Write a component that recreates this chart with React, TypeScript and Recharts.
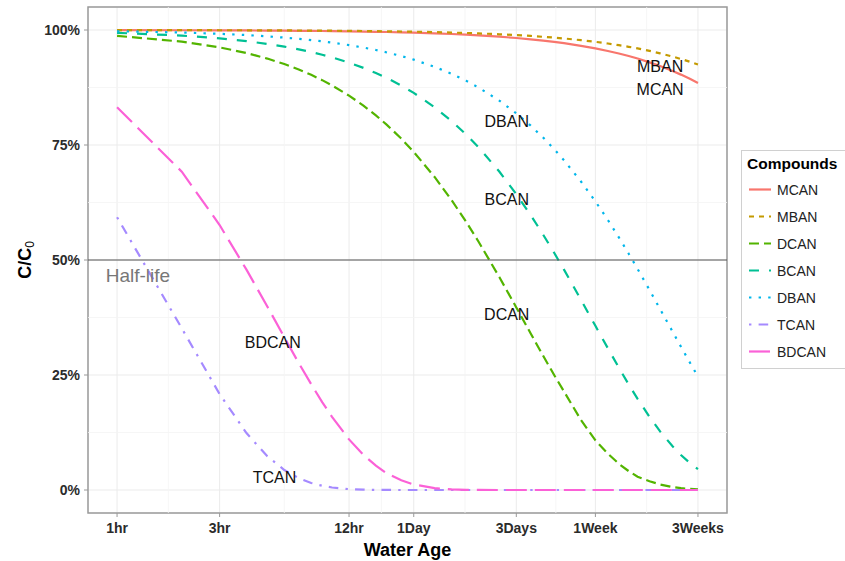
import React from 'react';
import {
  LineChart, Line, XAxis, YAxis, CartesianGrid, ReferenceLine, ReferenceArea, ReferenceDot, Legend,
} from 'recharts';

// ---- data ----
const hours = [1, 2, 3, 4, 5, 6, 7, 8, 9, 10, 12, 14, 16, 18, 21, 24, 30, 36, 42, 48, 60, 72, 84, 96, 108, 120, 144, 168, 192, 216, 240, 264, 300, 336, 384, 420, 462, 504];

const MCAN = [0.9998, 0.9995, 0.9993, 0.999, 0.9988, 0.9985, 0.9983, 0.998, 0.9978, 0.9976, 0.9971, 0.9966, 0.9961, 0.9956, 0.9949, 0.9942, 0.9927, 0.9913, 0.9898, 0.9884, 0.9855, 0.9826, 0.9798, 0.9769, 0.9741, 0.9713, 0.9656, 0.96, 0.9544, 0.9489, 0.9434, 0.9379, 0.9297, 0.9216, 0.9109, 0.903, 0.8939, 0.8848];
const MBAN = [0.9998, 0.9997, 0.9995, 0.9994, 0.9992, 0.9991, 0.9989, 0.9988, 0.9986, 0.9985, 0.9981, 0.9978, 0.9975, 0.9972, 0.9967, 0.9963, 0.9954, 0.9944, 0.9935, 0.9926, 0.9907, 0.9889, 0.9871, 0.9852, 0.9834, 0.9816, 0.9779, 0.9743, 0.9707, 0.967, 0.9635, 0.9599, 0.9546, 0.9493, 0.9422, 0.937, 0.9309, 0.925];
const DCAN = [0.9873, 0.9747, 0.9622, 0.95, 0.9379, 0.926, 0.9142, 0.9025, 0.891, 0.8796, 0.8573, 0.8356, 0.8144, 0.7938, 0.7638, 0.7349, 0.6806, 0.6301, 0.5834, 0.5402, 0.463, 0.3969, 0.3402, 0.2917, 0.25, 0.2143, 0.152, 0.108, 0.079, 0.057, 0.041, 0.029, 0.019, 0.012, 0.0065, 0.004, 0.0025, 0.0015];
const BCAN = [0.9939, 0.9878, 0.9818, 0.9758, 0.9698, 0.9639, 0.958, 0.9521, 0.9463, 0.9405, 0.929, 0.9177, 0.9066, 0.8956, 0.8793, 0.8633, 0.8321, 0.8021, 0.7731, 0.7452, 0.6923, 0.6432, 0.5976, 0.5551, 0.5157, 0.4791, 0.4135, 0.3569, 0.3081, 0.2659, 0.2295, 0.1981, 0.159, 0.1274, 0.095, 0.0761, 0.0589, 0.0455];
const DBAN = [0.9972, 0.9945, 0.9917, 0.989, 0.9862, 0.9835, 0.9808, 0.978, 0.9753, 0.9726, 0.9672, 0.9618, 0.9566, 0.9512, 0.9434, 0.9355, 0.9199, 0.9048, 0.8899, 0.8751, 0.8465, 0.8188, 0.792, 0.7661, 0.741, 0.7167, 0.6706, 0.6274, 0.5869, 0.5491, 0.5137, 0.4806, 0.4347, 0.3932, 0.3443, 0.3115, 0.2773, 0.2465];
const TCAN = [0.593, 0.3516, 0.2085, 0.1237, 0.0733, 0.0435, 0.0258, 0.0153, 0.0091, 0.0054, 0.0019, 0.0007, 0.0002, 0.0001, 0, 0, 0, 0, 0, 0, 0, 0, 0, 0, 0, 0, 0, 0, 0, 0, 0, 0, 0, 0, 0, 0, 0, 0];
const BDCAN = [0.832, 0.692, 0.576, 0.479, 0.399, 0.332, 0.276, 0.23, 0.191, 0.159, 0.11, 0.076, 0.053, 0.036, 0.021, 0.012, 0.004, 0.0013, 0.0004, 0.0001, 0, 0, 0, 0, 0, 0, 0, 0, 0, 0, 0, 0, 0, 0, 0, 0, 0, 0];

const seriesNames = ['MCAN', 'MBAN', 'DCAN', 'BCAN', 'DBAN', 'TCAN', 'BDCAN'];
const seriesValues = [MCAN, MBAN, DCAN, BCAN, DBAN, TCAN, BDCAN];
const seriesColors = ['#F8766D', '#C49A00', '#53B400', '#00C094', '#00B6EB', '#A58AFF', '#FB61D7'];
const seriesDash = [undefined, '5 5', '10 5', '10 10', '2.4 7.2', '2.4 7.2 9.6 7.2', '21 8'];

const xTicks = [1, 3, 12, 24, 72, 168, 504];
const xTickLabels = ['1hr', '3hr', '12hr', '1Day', '3Days', '1Week', '3Weeks'];
const xMinor = [1.732, 6, 16.97, 41.57, 110, 291];
const yTicks = [0, 0.25, 0.5, 0.75, 1];
const yTickLabels = ['0%', '25%', '50%', '75%', '100%'];
const yMinor = [0.125, 0.375, 0.625, 0.875];

const annoText = ['MBAN', 'MCAN', 'DBAN', 'BCAN', 'DCAN', 'BDCAN', 'TCAN'];
const annoX = [336, 336, 65, 65, 65, 5.3, 5.4];
const annoY = [0.922, 0.872, 0.802, 0.633, 0.383, 0.32, 0.028];
const halfLifeLabel = { text: 'Half-life', x: 1.25, y: 0.467 };

const data = hours.map((h, i) => {
  const row: Record<string, number> = { h };
  seriesNames.forEach((n, k) => { row[n] = seriesValues[k][i]; });
  return row;
});

const FONT = '"Liberation Sans", Arial, Helvetica, sans-serif';

const renderLegend = () => (
  <svg width={112} height={220} style={{ display: 'block' }}>
    <rect x={0.5} y={0.5} width={120} height={218} fill="#fff" stroke="#d0d0d0" strokeWidth={1} />
    <text x={6} y={19} fontFamily={FONT} fontSize={15.5} fontWeight="bold" fill="#000">Compounds</text>
    {seriesNames.map((n, i) => (
      <g key={n}>
        <line x1={8} x2={30} y1={39.5 + 27 * i} y2={39.5 + 27 * i} stroke={seriesColors[i]} strokeWidth={2.2} strokeDasharray={seriesDash[i]} />
        <text x={36} y={44.5 + 27 * i} fontFamily={FONT} fontSize={14} fill="#222">{n}</text>
      </g>
    ))}
  </svg>
);

const YTitle = (props: any) => {
  const vb = props.viewBox || { x: 0, y: 7, width: 88, height: 506 };
  const cx = 25;
  const cy = vb.y + vb.height / 2;
  return (
    <text x={cx} y={cy} transform={`rotate(-90, ${cx}, ${cy})`} textAnchor="middle" dominantBaseline="central" fontFamily={FONT} fontSize={18} fontWeight="bold" fill="#000">
      C/C<tspan fontSize={12} fontWeight="normal" dy={5}>0</tspan>
    </text>
  );
};

const XTitle = (props: any) => {
  const vb = props.viewBox || { x: 88, y: 513, width: 639, height: 48 };
  return (
    <text x={vb.x + vb.width / 2} y={555.5} textAnchor="middle" fontFamily={FONT} fontSize={18} fontWeight="bold" fill="#000">Water Age</text>
  );
};

export default function App() {
  return (
    <div style={{ position: 'absolute', left: 0, top: 0, width: 845, height: 561, background: '#fff' }}>
      <LineChart width={845} height={561} data={data} margin={{ top: 7, right: 118, bottom: 0, left: 0 }}>
        <CartesianGrid stroke="#ebebeb" strokeWidth={1} />
        {xMinor.map((v) => (
          <ReferenceLine key={'xm' + v} x={v} stroke="#f4f4f4" strokeWidth={0.8} />
        ))}
        {yMinor.map((v) => (
          <ReferenceLine key={'ym' + v} y={v} stroke="#f4f4f4" strokeWidth={0.8} />
        ))}
        <XAxis
          dataKey="h"
          type="number"
          scale="log"
          domain={[0.7325, 687.9]}
          allowDataOverflow
          ticks={xTicks}
          tickFormatter={(v: number) => xTickLabels[xTicks.indexOf(v)] ?? ''}
          height={48}
          axisLine={false}
          tickLine={{ stroke: '#999' }}
          tickSize={4}
          tickMargin={6}
          tick={{ fontFamily: FONT, fontSize: 14, fontWeight: 'bold', fill: '#2b2b2b' }}
          interval={0}
          label={{ content: XTitle }}
        />
        <YAxis
          type="number"
          domain={[-0.05, 1.05]}
          allowDataOverflow
          ticks={yTicks}
          tickFormatter={(v: number) => yTickLabels[yTicks.indexOf(v)] ?? ''}
          width={88}
          axisLine={false}
          tickLine={{ stroke: '#999' }}
          tickSize={4}
          tickMargin={4}
          tick={{ fontFamily: FONT, fontSize: 14, fontWeight: 'bold', fill: '#2b2b2b' }}
          interval={0}
          label={{ content: YTitle }}
        />
        {seriesNames.map((n, i) => (
          <Line
            key={n}
            dataKey={n}
            type="linear"
            stroke={seriesColors[i]}
            strokeWidth={2.2}
            strokeDasharray={seriesDash[i]}
            dot={false}
            activeDot={false}
            isAnimationActive={false}
            legendType="none"
          />
        ))}
        <ReferenceLine y={0.5} stroke="#555" strokeWidth={1} />
        <ReferenceArea x1={0.7325} x2={687.9} y1={-0.05} y2={1.05} fill="none" stroke="#9a9a9a" strokeWidth={1.5} ifOverflow="visible" />
        {annoText.map((t, i) => (
          <ReferenceDot
            key={'a' + t}
            x={annoX[i]}
            y={annoY[i]}
            r={0}
            fill="none"
            stroke="none"
            ifOverflow="visible"
            label={{ value: t, position: 'center', fill: '#111', fontSize: 16, fontFamily: FONT }}
          />
        ))}
        <ReferenceDot
          x={halfLifeLabel.x}
          y={halfLifeLabel.y}
          r={0}
          fill="none"
          stroke="none"
          ifOverflow="visible"
          label={{ value: halfLifeLabel.text, position: 'center', fill: '#777', fontSize: 19, fontFamily: FONT }}
        />
        <Legend
          layout="vertical"
          align="center"
          verticalAlign="middle"
          content={renderLegend}
          wrapperStyle={{ position: 'absolute', left: 741, top: 150, width: 112, height: 220 }}
        />
      </LineChart>
    </div>
  );
}
